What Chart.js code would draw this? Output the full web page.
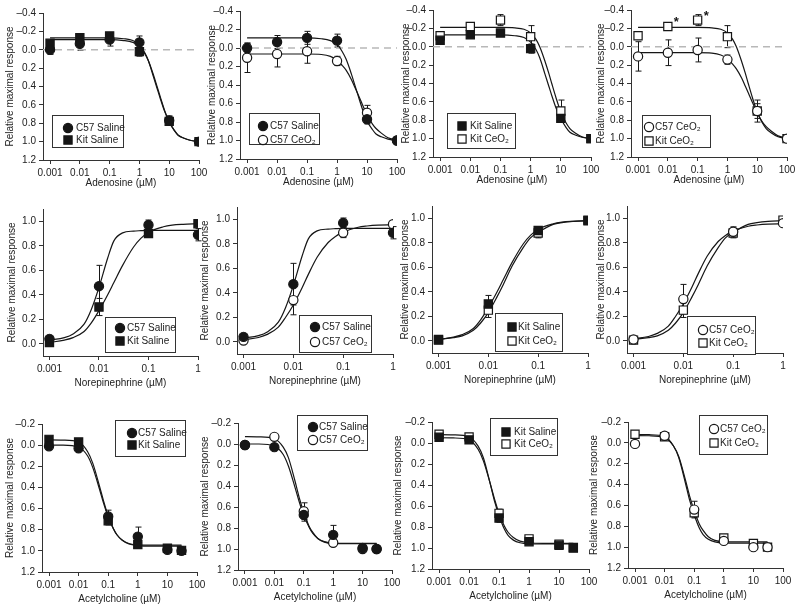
<!DOCTYPE html>
<html>
<head>
<meta charset="utf-8">
<script src="https://cdn.jsdelivr.net/npm/chart.js@4.4.0/dist/chart.umd.min.js"></script>
<style>
  body { margin: 0; background: #fff; width: 800px; height: 609px; position: relative; overflow: hidden; }
  canvas { position: absolute; }
</style>
</head>
<body>
<script>
// ---- doses (µM) ----
const adoDoses = [0.001, 0.01, 0.1, 1, 10, 100];
const neDoses = [0.001, 0.01, 0.1, 1];
const achDoses = [0.001, 0.01, 0.1, 1, 10, 30];

// ---- tick labels ----
const adoXTicks = [0.001, 0.01, 0.1, 1, 10, 100];
const neXTicks = [0.001, 0.01, 0.1, 1];
const achXTicks = [0.001, 0.01, 0.1, 1, 10, 100];
const adoYTicks = [-0.4, -0.2, 0, 0.2, 0.4, 0.6, 0.8, 1.0, 1.2];
const neYTicks = [0, 0.2, 0.4, 0.6, 0.8, 1.0];
const achYTicks = [-0.2, 0, 0.2, 0.4, 0.6, 0.8, 1.0, 1.2];

// ---- adenosine: means and error ----
const adoC57Saline = [0.0, -0.065, -0.11, -0.08, 0.77, 1.0];
const adoC57SalineErr = [0.05, 0.07, 0.07, 0.07, 0.05, 0];
const adoKitSaline = [-0.07, -0.13, -0.15, 0.02, 0.78, 1.0];
const adoKitSalineErr = [0.02, 0.03, 0.03, 0.05, 0.03, 0];
const adoC57Ceo2 = [0.105, 0.065, 0.035, 0.14, 0.70, 1.0];
const adoC57Ceo2Err = [0.16, 0.14, 0.13, 0.05, 0.08, 0];
const adoKitCeo2 = [-0.12, -0.22, -0.29, -0.11, 0.70, 1.0];
const adoKitCeo2Err = [0.02, 0.03, 0.06, 0.12, 0.12, 0];
const adoStars = [0.01, 0.1];

// adenosine fitted curves
const adoCurveX = [0.001, 0.01, 0.1, 0.3, 0.6, 1, 1.5, 2, 3, 4, 5, 7, 10, 15, 20, 30, 50, 100];
const adoC57SalineFit = [-0.11, -0.11, -0.11, -0.10, -0.08, -0.04, 0.04, 0.12, 0.28, 0.41, 0.51, 0.66, 0.79, 0.88, 0.93, 0.96, 0.985, 1.0];
const adoKitSalineFit = [-0.13, -0.13, -0.13, -0.12, -0.10, -0.05, 0.03, 0.12, 0.30, 0.43, 0.53, 0.67, 0.78, 0.88, 0.93, 0.96, 0.985, 1.0];
const adoC57Ceo2Fit = [0.065, 0.065, 0.065, 0.07, 0.09, 0.13, 0.19, 0.24, 0.34, 0.43, 0.50, 0.61, 0.72, 0.82, 0.87, 0.92, 0.97, 0.995];
const adoKitCeo2Fit = [-0.21, -0.21, -0.21, -0.205, -0.19, -0.15, -0.08, 0.0, 0.16, 0.29, 0.40, 0.56, 0.71, 0.83, 0.89, 0.94, 0.98, 1.0];

// ---- norepinephrine ----
const neC57Saline = [0.04, 0.47, 0.97, 0.89];
const neC57SalineErr = [0.02, 0.17, 0.04, 0.05];
const neKitSaline = [0.01, 0.30, 0.90, 0.98];
const neKitSalineErr = [0, 0.07, 0.03, 0];
const neC57Ceo2 = [0.01, 0.34, 0.89, 0.96];
const neC57Ceo2Err = [0, 0.12, 0.04, 0];
const neKitCeo2 = [0.005, 0.25, 0.88, 0.985];
const neKitCeo2Err = [0, 0.06, 0.04, 0];

const neCurveX = [0.001, 0.002, 0.003, 0.005, 0.007, 0.01, 0.015, 0.02, 0.03, 0.05, 0.07, 0.1, 0.2, 0.3, 0.5, 1];
const neC57SalineFit = [0.03, 0.05, 0.08, 0.16, 0.28, 0.46, 0.70, 0.84, 0.905, 0.92, 0.923, 0.925, 0.925, 0.925, 0.925, 0.925];
const neKitSalineFit = [0.01, 0.03, 0.05, 0.10, 0.17, 0.27, 0.40, 0.50, 0.64, 0.79, 0.86, 0.91, 0.955, 0.968, 0.975, 0.98];
const neC57Ceo2Fit = [0.015, 0.035, 0.06, 0.12, 0.20, 0.30, 0.44, 0.55, 0.69, 0.81, 0.86, 0.895, 0.935, 0.945, 0.952, 0.955];
const neKitCeo2Fit = [0.01, 0.025, 0.04, 0.085, 0.145, 0.23, 0.36, 0.46, 0.61, 0.76, 0.84, 0.885, 0.95, 0.965, 0.975, 0.98];

// ---- acetylcholine ----
const achC57Saline = [0.01, 0.03, 0.675, 0.865, 0.99, 1.0];
const achC57SalineErr = [0, 0.02, 0.06, 0.09, 0, 0];
const achKitSaline = [-0.055, -0.03, 0.715, 0.94, 0.975, 0.995];
const achKitSalineErr = [0, 0.02, 0.04, 0.02, 0, 0];
const achC57Ceo2 = [0.01, -0.068, 0.64, 0.94, 1.0, 1.0];
const achC57Ceo2Err = [0, 0, 0.08, 0, 0, 0];
const achKitCeo2 = [-0.083, -0.058, 0.67, 0.913, 0.965, 1.0];
const achKitCeo2Err = [0, 0, 0.04, 0, 0, 0];

const achCurveX = [0.001, 0.003, 0.01, 0.02, 0.03, 0.05, 0.07, 0.1, 0.15, 0.2, 0.3, 0.5, 1, 3, 10, 30];
const achC57SalineFit = [0.0, 0.0, 0.02, 0.10, 0.21, 0.41, 0.55, 0.68, 0.79, 0.85, 0.90, 0.93, 0.944, 0.946, 0.946, 0.946];
const achKitSalineFit = [-0.05, -0.048, -0.03, 0.06, 0.17, 0.38, 0.53, 0.67, 0.79, 0.85, 0.90, 0.935, 0.95, 0.955, 0.955, 0.955];
const achC57Ceo2Fit = [-0.07, -0.068, -0.05, 0.03, 0.13, 0.35, 0.51, 0.65, 0.78, 0.84, 0.90, 0.935, 0.948, 0.95, 0.95, 0.95];
const achKitCeo2Fit = [-0.08, -0.078, -0.06, 0.03, 0.14, 0.38, 0.55, 0.69, 0.82, 0.88, 0.925, 0.95, 0.96, 0.962, 0.962, 0.962];

const INK = '#161616';
const PAD_T = 8, PAD_R = 12;

Chart.defaults.font.family = '"Liberation Sans", Arial, sans-serif';
Chart.defaults.font.size = 10;
Chart.defaults.color = '#222';
Chart.defaults.animation = false;

const groups = {
    c57Saline: { label: 'C57 Saline', style: 'circle', filled: true },
    kitSaline: { label: 'Kit Saline', style: 'rect', filled: true },
    c57Ceo2: { label: 'C57 CeO\u2082', style: 'circle', filled: false },
    kitCeo2: { label: 'Kit CeO\u2082', style: 'rect', filled: false }
};

const drugs = {
    ado: {
        title: 'Adenosine (µM)', doses: adoDoses, curveX: adoCurveX,
        xTicks: adoXTicks, yTicks: adoYTicks,
        xMin: 0.00058, xMax: 100, yMin: -0.4, yMax: 1.2, reverse: true, zeroLine: true, axisH: 33,
        mean: { c57Saline: adoC57Saline, kitSaline: adoKitSaline, c57Ceo2: adoC57Ceo2, kitCeo2: adoKitCeo2 },
        err: { c57Saline: adoC57SalineErr, kitSaline: adoKitSalineErr, c57Ceo2: adoC57Ceo2Err, kitCeo2: adoKitCeo2Err },
        fit: { c57Saline: adoC57SalineFit, kitSaline: adoKitSalineFit, c57Ceo2: adoC57Ceo2Fit, kitCeo2: adoKitCeo2Fit }
    },
    ne: {
        title: 'Norepinephrine (µM)', doses: neDoses, curveX: neCurveX,
        xTicks: neXTicks, yTicks: neYTicks,
        xMin: 0.00074, xMax: 1, yMin: -0.1, yMax: 1.1, reverse: false, zeroLine: false, axisH: 37,
        mean: { c57Saline: neC57Saline, kitSaline: neKitSaline, c57Ceo2: neC57Ceo2, kitCeo2: neKitCeo2 },
        err: { c57Saline: neC57SalineErr, kitSaline: neKitSalineErr, c57Ceo2: neC57Ceo2Err, kitCeo2: neKitCeo2Err },
        fit: { c57Saline: neC57SalineFit, kitSaline: neKitSalineFit, c57Ceo2: neC57Ceo2Fit, kitCeo2: neKitCeo2Fit }
    },
    ach: {
        title: 'Acetylcholine (µM)', doses: achDoses, curveX: achCurveX,
        xTicks: achXTicks, yTicks: achYTicks,
        xMin: 0.00058, xMax: 100, yMin: -0.2, yMax: 1.2, reverse: true, zeroLine: false, axisH: 37,
        mean: { c57Saline: achC57Saline, kitSaline: achKitSaline, c57Ceo2: achC57Ceo2, kitCeo2: achKitCeo2 },
        err: { c57Saline: achC57SalineErr, kitSaline: achKitSalineErr, c57Ceo2: achC57Ceo2Err, kitCeo2: achKitCeo2Err },
        fit: { c57Saline: achC57SalineFit, kitSaline: achKitSalineFit, c57Ceo2: achC57Ceo2Fit, kitCeo2: achKitCeo2Fit }
    }
};

// page layout of every panel: axis box, y-title x, legend box
const panels = [
    { drug: 'ado', series: ['c57Saline', 'kitSaline'], ax: 43, ar: 199, at: 12, ab: 160, tx: 10,
      legend: { x: 52, y: 115, w: 71, h: 32, mx: 68, lx: 76, rows: [128, 140] } },
    { drug: 'ado', series: ['c57Saline', 'c57Ceo2'], ax: 240, ar: 397, at: 10, ab: 159, tx: 212,
      legend: { x: 249, y: 113, w: 70, h: 31, mx: 263, lx: 270, rows: [126, 140] } },
    { drug: 'ado', series: ['kitSaline', 'kitCeo2'], ax: 433, ar: 591, at: 9, ab: 157, tx: 406,
      legend: { x: 447, y: 113, w: 68, h: 35, mx: 462, lx: 470, rows: [126, 139] } },
    { drug: 'ado', series: ['c57Ceo2', 'kitCeo2'], ax: 631, ar: 787, at: 9, ab: 157, tx: 601, stars: adoStars,
      legend: { x: 642, y: 115, w: 68, h: 32, mx: 649, lx: 655, rows: [127, 141] } },

    { drug: 'ne', series: ['c57Saline', 'kitSaline'], ax: 43, ar: 198, at: 208, ab: 356, tx: 12,
      legend: { x: 105, y: 317, w: 70, h: 35, mx: 120, lx: 127, rows: [328, 341] } },
    { drug: 'ne', series: ['c57Saline', 'c57Ceo2'], ax: 237, ar: 393, at: 206, ab: 354, tx: 205,
      legend: { x: 299, y: 315, w: 72, h: 37, mx: 315, lx: 322, rows: [327, 342] } },
    { drug: 'ne', series: ['kitSaline', 'kitCeo2'], ax: 432, ar: 588, at: 205, ab: 353, tx: 405,
      legend: { x: 495, y: 313, w: 67, h: 38, mx: 512, lx: 518, rows: [327, 341] } },
    { drug: 'ne', series: ['c57Ceo2', 'kitCeo2'], ax: 627, ar: 783, at: 205, ab: 353, tx: 601,
      legend: { x: 687, y: 316, w: 68, h: 38, mx: 703, lx: 709, rows: [330, 343] } },

    { drug: 'ach', series: ['c57Saline', 'kitSaline'], ax: 42, ar: 197, at: 423, ab: 572, tx: 10,
      legend: { x: 115, y: 420, w: 70, h: 36, mx: 132, lx: 138, rows: [433, 445] } },
    { drug: 'ach', series: ['c57Saline', 'c57Ceo2'], ax: 238, ar: 392, at: 422, ab: 570, tx: 205,
      legend: { x: 297, y: 415, w: 70, h: 35, mx: 313, lx: 319, rows: [427, 440] } },
    { drug: 'ach', series: ['kitSaline', 'kitCeo2'], ax: 432, ar: 589, at: 421, ab: 569, tx: 398,
      legend: { x: 490, y: 418, w: 67, h: 37, mx: 506, lx: 514, rows: [432, 444] } },
    { drug: 'ach', series: ['c57Ceo2', 'kitCeo2'], ax: 628, ar: 783, at: 421, ab: 568, tx: 594,
      legend: { x: 699, y: 415, w: 68, h: 39, mx: 714, lx: 720, rows: [429, 443] } }
];

function markerRadius(style) {
    return style === 'rect' ? 5.8 : 4.6;
}

function drawMarker(ctx, g, x, y) {
    ctx.beginPath();
    if (g.style === 'rect') {
        const h = 4.1;
        ctx.rect(x - h, y - h, 2 * h, 2 * h);
    } else {
        ctx.arc(x, y, 4.6, 0, Math.PI * 2);
    }
    ctx.fillStyle = g.filled ? INK : '#fff';
    ctx.fill();
    ctx.lineWidth = 1.2;
    ctx.strokeStyle = INK;
    ctx.stroke();
}

function tickLabel(v) {
    const s = Math.abs(v).toFixed(1);
    return v < 0 ? '\u2013' + s : s;
}

function makePanel(p) {
    const d = drugs[p.drug];
    const left = p.tx - 10;
    const top = p.at - PAD_T;
    const yW = p.ax - left;
    const canvas = document.createElement('canvas');
    canvas.width = p.ar - left + PAD_R;
    canvas.height = PAD_T + (p.ab - p.at) + d.axisH;
    canvas.style.left = left + 'px';
    canvas.style.top = top + 'px';
    document.body.appendChild(canvas);

    const datasets = [];
    p.series.forEach(function(key) {
        const g = groups[key];
        datasets.push({
            type: 'scatter',
            label: g.label,
            data: d.doses.map((x, i) => ({ x: x, y: d.mean[key][i] })),
            errs: d.err[key],
            pointStyle: g.style,
            pointRadius: markerRadius(g.style),
            backgroundColor: g.filled ? INK : '#fff',
            borderColor: INK,
            borderWidth: 1.2,
            order: 1
        });
    });
    p.series.forEach(function(key) {
        datasets.push({
            type: 'line',
            data: d.curveX.map((x, i) => ({ x: x, y: d.fit[key][i] })),
            borderColor: INK,
            borderWidth: 1.2,
            pointRadius: 0,
            fill: false,
            cubicInterpolationMode: 'monotone',
            order: 2
        });
    });
    if (d.zeroLine) {
        datasets.push({
            type: 'line',
            data: [{ x: d.xMin, y: 0 }, { x: d.xMax, y: 0 }],
            borderColor: '#b8b8b8',
            borderWidth: 1.3,
            borderDash: [7, 5],
            pointRadius: 0,
            order: 3
        });
    }

    // error bars, stars and the boxed legend
    const extras = {
        id: 'extras',
        beforeDatasetsDraw(chart) {
            const ctx = chart.ctx, xs = chart.scales.x, ys = chart.scales.y;
            ctx.save();
            ctx.strokeStyle = INK;
            ctx.lineWidth = 1;
            chart.data.datasets.forEach(function(ds) {
                if (!ds.errs) return;
                ds.data.forEach(function(pt, i) {
                    const e = ds.errs[i];
                    if (!e) return;
                    const px = Math.round(xs.getPixelForValue(pt.x)) + 0.5;
                    const y1 = ys.getPixelForValue(pt.y - e);
                    const y2 = ys.getPixelForValue(pt.y + e);
                    ctx.beginPath();
                    ctx.moveTo(px, y1); ctx.lineTo(px, y2);
                    ctx.moveTo(px - 3, y1); ctx.lineTo(px + 3, y1);
                    ctx.moveTo(px - 3, y2); ctx.lineTo(px + 3, y2);
                    ctx.stroke();
                });
            });
            ctx.restore();
        },
        afterDraw(chart) {
            const ctx = chart.ctx;
            ctx.save();
            if (p.stars) {
                const xs = chart.scales.x, ys = chart.scales.y;
                ctx.fillStyle = INK;
                ctx.font = 'bold 13px "Liberation Sans", Arial, sans-serif';
                ctx.textAlign = 'left';
                ctx.textBaseline = 'middle';
                p.stars.forEach(function(dose) {
                    const i = d.doses.indexOf(dose);
                    const px = xs.getPixelForValue(dose);
                    const py = ys.getPixelForValue(d.mean.kitCeo2[i]);
                    ctx.fillText('*', px + 6, py - 4);
                });
            }
            const lg = p.legend;
            const bx = lg.x - left, by = lg.y - top;
            ctx.fillStyle = '#fff';
            ctx.fillRect(bx, by, lg.w, lg.h);
            ctx.strokeStyle = '#333';
            ctx.lineWidth = 1;
            ctx.strokeRect(bx + 0.5, by + 0.5, lg.w, lg.h);
            ctx.font = '10px "Liberation Sans", Arial, sans-serif';
            ctx.textAlign = 'left';
            ctx.textBaseline = 'middle';
            p.series.forEach(function(key, i) {
                const g = groups[key];
                const ry = lg.rows[i] - top;
                drawMarker(ctx, g, lg.mx - left, ry);
                ctx.fillStyle = '#222';
                ctx.fillText(g.label, lg.lx - left, ry + 0.5);
            });
            ctx.restore();
        }
    };

    new Chart(canvas, {
        type: 'scatter',
        data: { datasets: datasets },
        options: {
            responsive: false,
            devicePixelRatio: 1,
            layout: { padding: { top: PAD_T, right: PAD_R, left: 0, bottom: 0 } },
            plugins: { legend: { display: false }, tooltip: { enabled: false } },
            scales: {
                x: {
                    type: 'logarithmic',
                    min: d.xMin,
                    max: d.xMax,
                    afterBuildTicks: s => { s.ticks = d.xTicks.map(v => ({ value: v })); },
                    afterFit: s => { s.height = d.axisH; },
                    ticks: { autoSkip: false, maxRotation: 0, padding: 3, callback: v => String(v) },
                    grid: { drawOnChartArea: false, tickLength: 4, color: '#333' },
                    border: { color: '#333', width: 1 },
                    title: { display: true, text: d.title, font: { size: 10 } }
                },
                y: {
                    type: 'linear',
                    min: d.yMin,
                    max: d.yMax,
                    reverse: d.reverse,
                    afterBuildTicks: s => { s.ticks = d.yTicks.map(v => ({ value: v })); },
                    afterFit: s => { s.width = yW; },
                    ticks: { padding: 3, callback: v => tickLabel(v) },
                    grid: { drawOnChartArea: false, tickLength: 4, color: '#333' },
                    border: { color: '#333', width: 1 },
                    title: { display: true, text: 'Relative maximal response', font: { size: 10 } }
                }
            }
        },
        plugins: [extras]
    });
}

panels.forEach(makePanel);
</script>
</body>
</html>
